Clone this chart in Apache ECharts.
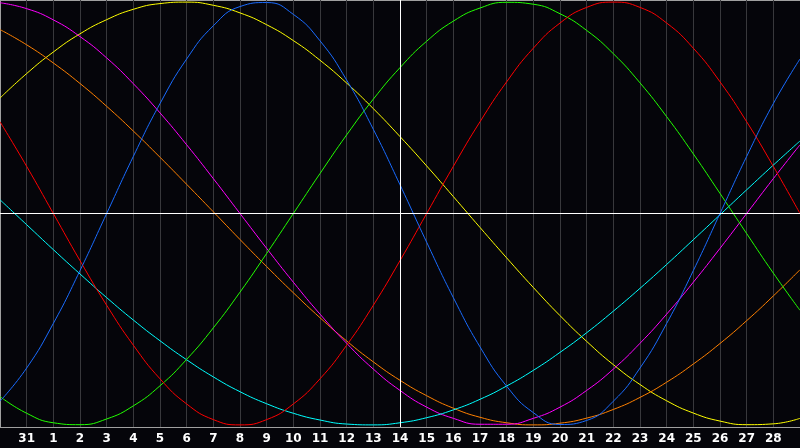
<!DOCTYPE html>
<html>
<head>
<meta charset="utf-8">
<script src="https://cdn.jsdelivr.net/npm/echarts@6/dist/echarts.min.js"></script>
<style>
  html, body { margin: 0; padding: 0; background: #05050a; }
  #main { width: 800px; height: 448px; }
</style>
</head>
<body>
<div id="main"></div>
<script>
"use strict";

// day labels under each grid line (index = position in days from left edge)
var dayLabels = ['30', '31', '1', '2', '3', '4', '5', '6', '7', '8', '9', '10', '11', '12', '13', '14',
    '15', '16', '17', '18', '19', '20', '21', '22', '23', '24', '25', '26', '27', '28', ''];
var todayIndex = 15;

// values read at each day line, -1 .. 1
var red = [0.434, 0.223, 0, -0.223, -0.434, -0.623, -0.782, -0.901, -0.975, -1, -0.975, -0.901, -0.782, -0.623, -0.434, -0.223,
    0, 0.223, 0.434, 0.623, 0.782, 0.901, 0.975, 1, 0.975, 0.901, 0.782, 0.623, 0.434, 0.223, 0];
var green = [-0.866, -0.945, -0.990, -0.999, -0.972, -0.910, -0.815, -0.690, -0.541, -0.372, -0.189, 0, 0.189, 0.372, 0.541, 0.690,
    0.815, 0.910, 0.972, 0.999, 0.990, 0.945, 0.866, 0.756, 0.618, 0.458, 0.282, 0.095, -0.095, -0.282, -0.458];
var blue = [-0.888, -0.731, -0.520, -0.270, 0, 0.270, 0.520, 0.731, 0.888, 0.979, 0.998, 0.942, 0.817, 0.631, 0.398, 0.136,
    -0.136, -0.398, -0.631, -0.817, -0.942, -0.998, -0.979, -0.888, -0.731, -0.520, -0.270, 0, 0.270, 0.520, 0.731];
var yellow = [0.546, 0.662, 0.764, 0.850, 0.917, 0.966, 0.993, 1.000, 0.985, 0.949, 0.893, 0.818, 0.725, 0.617, 0.496, 0.364,
    0.225, 0.080, -0.066, -0.210, -0.350, -0.483, -0.605, -0.715, -0.809, -0.886, -0.944, -0.982, -0.999, -0.995, -0.969];
var magenta = [0.997, 0.969, 0.916, 0.837, 0.736, 0.614, 0.476, 0.325, 0.165, 0, -0.165, -0.325, -0.476, -0.614, -0.736, -0.837,
    -0.916, -0.969, -0.997, -0.997, -0.969, -0.916, -0.837, -0.736, -0.614, -0.476, -0.325, -0.165, 0, 0.165, 0.325];
var cyan = [0.065, -0.053, -0.171, -0.286, -0.398, -0.504, -0.602, -0.692, -0.773, -0.843, -0.900, -0.945, -0.977, -0.996, -1.000, -0.990,
    -0.966, -0.929, -0.879, -0.816, -0.742, -0.657, -0.564, -0.462, -0.354, -0.241, -0.124, -0.006, 0.112, 0.229, 0.343];
var orange = [0.870, 0.798, 0.712, 0.615, 0.507, 0.390, 0.266, 0.138, 0.008, -0.123, -0.251, -0.375, -0.493, -0.603, -0.702, -0.789,
    -0.862, -0.921, -0.964, -0.990, -1.000, -0.992, -0.968, -0.927, -0.870, -0.798, -0.712, -0.615, -0.507, -0.390, -0.266];

var dom = document.getElementById("main");
var myChart = echarts.init(dom, null, { renderer: 'canvas' });

function toPoints(arr) {
    var out = [];
    for (var i = 0; i < arr.length; i++) {
        out.push([i, arr[i]]);
    }
    return out;
}

function curve(name, arr, color) {
    return {
        name: name,
        type: 'line',
        data: toPoints(arr),
        smooth: true,
        symbol: 'none',
        silent: true,
        lineStyle: { color: color, width: 1 },
        z: 3
    };
}

var series = [
    curve('yellow', yellow, '#ffff00'),
    curve('orange', orange, '#ff8000'),
    curve('magenta', magenta, '#ff00ff'),
    curve('cyan', cyan, '#00ffff'),
    curve('green', green, '#22ff00'),
    curve('red', red, '#ff0000'),
    curve('blue', blue, '#1a6cff')
];

// today line + zero line
series.push({
    type: 'line',
    data: [],
    silent: true,
    markLine: {
        silent: true,
        symbol: 'none',
        label: { show: false },
        lineStyle: { color: '#ffffff', width: 1, type: 'solid' },
        data: [{ xAxis: todayIndex }, { yAxis: 0 }]
    },
    z: 2
});

var option = {
    backgroundColor: '#05050a',
    animation: false,
    grid: {
        left: 0,
        right: 0,
        top: 0,
        bottom: 21
    },
    xAxis: {
        type: 'value',
        min: 0,
        max: dayLabels.length - 1,
        interval: 1,
        axisLine: { show: true, lineStyle: { color: '#a8a8a8', width: 1 } },
        axisTick: { show: false },
        splitLine: { show: true, lineStyle: { color: '#38383c', width: 1 } },
        axisLabel: {
            showMinLabel: false,
            showMaxLabel: false,
            color: '#ffffff',
            fontFamily: 'DejaVu Sans',
            fontWeight: 'bold',
            fontSize: 12,
            margin: 6,
            formatter: function (v) { return dayLabels[v]; }
        }
    },
    yAxis: {
        type: 'value',
        min: -1.01,
        max: 1.01,
        interval: 1.01,
        axisLine: { show: true, lineStyle: { color: '#a0a0a0', width: 1 } },
        axisTick: { show: false },
        axisLabel: { show: false },
        splitLine: { show: true, lineStyle: { color: ['#a0a0a0', '#ffffff', '#a0a0a0'], width: 1 } }
    },
    series: series
};

myChart.setOption(option);
</script>
</body>
</html>
